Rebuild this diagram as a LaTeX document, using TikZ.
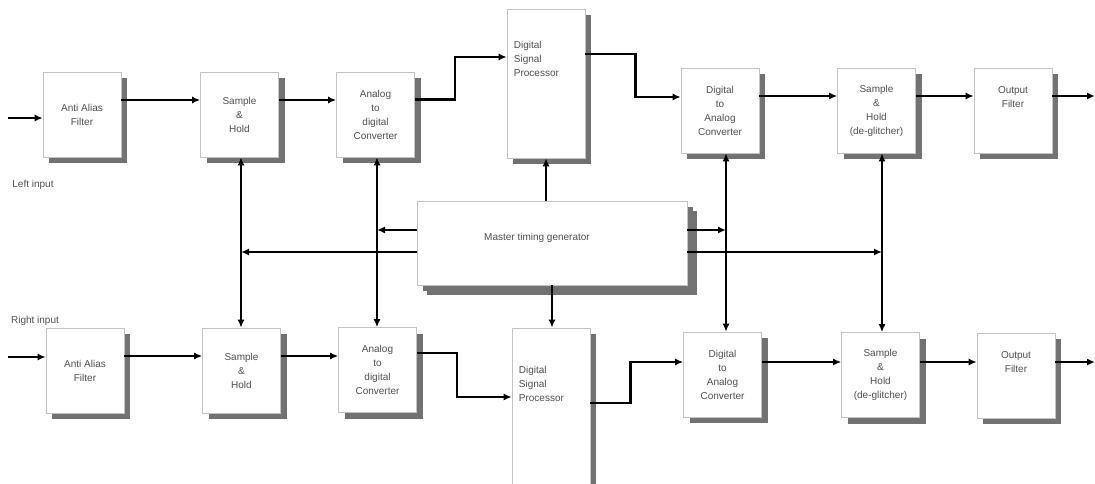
\documentclass[tikz,border=0pt]{standalone}
\usepackage{fontspec}
\setmainfont{Liberation Sans}
\usetikzlibrary{arrows.meta,shadows}

\definecolor{borde}{HTML}{C4C4C4}
\definecolor{sombra}{HTML}{727272}
\definecolor{texto}{HTML}{505050}

\tikzset{
  bloque/.style={draw=borde, line width=0.6pt, fill=white, minimum width=78pt,
    minimum height=85pt, inner sep=0pt, align=center, text=texto,
    font=\fontsize{10}{14}\selectfont,
    drop shadow={shadow xshift=6pt, shadow yshift=-6pt, fill=sombra, opacity=1}},
  senal/.style={line width=2.4pt, -{Latex[length=8pt,width=7pt]}},
  doble/.style={line width=2.4pt, {Latex[length=8pt,width=7pt]}-{Latex[length=8pt,width=7pt]}},
  rotulo/.style={text=texto, font=\fontsize{10}{14}\selectfont, inner sep=0pt, align=left},
}

\begin{document}
\begin{tikzpicture}[x=1pt, y=-1pt]
    \useasboundingbox (0,0) rectangle (1095,484);

    % Canal izquierdo
    \node[bloque] (aafL) at (82,114.5) {Anti Alias\\Filter};
    \node[bloque] (shL)  at (239.5,114.5) {Sample\\\&\\Hold};
    \node[bloque] (adcL) at (375.5,114.5) {Analog\\to\\digital\\Converter};
    \node[bloque, minimum height=149pt,
      label={[rotulo, anchor=north west, xshift=7pt, yshift=-32pt]north west:Digital\\Signal\\Processor}]
      (dspL) at (546,83.5) {};
    \node[bloque] (dacL) at (720,110.5) {Digital\\to\\Analog\\Converter};
    \node[bloque] (shdL) at (876.5,110.5) {Sample\\\&\\Hold\\(de-glitcher)};
    \node[bloque] (ofL)  at (1013,110.5) {Output\\Filter\\[12pt]};
    \node[rotulo] (izq) at (33,185) {Left input};

    % Canal derecho
    \node[bloque] (aafR) at (85,370.5) {Anti Alias\\Filter};
    \node[bloque] (shR)  at (241.5,370.5) {Sample\\\&\\Hold};
    \node[bloque] (adcR) at (377.5,370) {Analog\\to\\digital\\Converter};
    \node[bloque, minimum height=156pt,
      label={[rotulo, anchor=north west, xshift=7pt, yshift=-38pt]north west:Digital\\Signal\\Processor}]
      (dspR) at (551,406) {};
    \node[bloque] (dacR) at (722.5,374.5) {Digital\\to\\Analog\\Converter};
    \node[bloque] (shdR) at (880.5,375) {Sample\\\&\\Hold\\(de-glitcher)};
    \node[bloque] (ofR)  at (1016,375.5) {Output\\Filter\\[12pt]};
    \node[rotulo] (der) at (35,321) {Right input};

    % Generador de reloj
    \node[bloque, minimum width=270pt, minimum height=84pt,
      drop shadow={shadow xshift=10pt, shadow yshift=-10pt, fill=sombra, opacity=1},
      label={[rotulo, xshift=-15pt, yshift=5pt]center:Master timing generator}]
      (mtg) at (552,243) {};

    % Entradas y salidas
    \coordinate (inL) at (8,118);
    \coordinate (inR) at (8,357);
    \coordinate (outL) at (1095,96);
    \coordinate (outR) at (1095,362);

    % Buses verticales
    \coordinate (busSH) at (241,0);
    \coordinate (busAD) at (377,0);
    \coordinate (busDA) at (726,0);
    \coordinate (busSD) at (882,0);

    % Tomas del generador
    \coordinate (tapA) at ([yshift=13pt]mtg.west);
    \coordinate (tapB) at ([yshift=-9pt]mtg.west);
    \coordinate (tapC) at ([yshift=13pt]mtg.east);
    \coordinate (tapD) at ([yshift=-9pt]mtg.east);

    % Cadena izquierda
    \draw[senal] (inL) -- (inL -| aafL.west);
    \draw[senal] ([yshift=14.5pt]aafL.east) -- ([yshift=14.5pt]shL.west);
    \draw[senal] ([yshift=14.5pt]shL.east) -- ([yshift=14.5pt]adcL.west);
    \draw[senal] ([yshift=15pt]adcL.east) -- ++(40,0) |- ([yshift=26.5pt]dspL.west);
    \draw[senal] ([yshift=29.5pt]dspL.east) -- ++(50,0) |- ([yshift=13.5pt]dacL.west);
    \draw[senal] ([yshift=14.5pt]dacL.east) -- ([yshift=14.5pt]shdL.west);
    \draw[senal] ([yshift=14.5pt]shdL.east) -- ([yshift=14.5pt]ofL.west);
    \draw[senal] ([yshift=14.5pt]ofL.east) -- (outL);

    % Cadena derecha
    \draw[senal] (inR) -- (inR -| aafR.west);
    \draw[senal] ([yshift=14.5pt]aafR.east) -- ([yshift=14.5pt]shR.west);
    \draw[senal] ([yshift=14.5pt]shR.east) -- ([yshift=14pt]adcR.west);
    \draw[senal] ([yshift=17pt]adcR.east) -- ++(40,0) |- ([yshift=9pt]dspR.west);
    \draw[senal] ([yshift=3pt]dspR.east) -- ++(40,0) |- ([yshift=12.5pt]dacR.west);
    \draw[senal] ([yshift=12.5pt]dacR.east) -- ([yshift=13pt]shdR.west);
    \draw[senal] ([yshift=13pt]shdR.east) -- ([yshift=13.5pt]ofR.west);
    \draw[senal] ([yshift=13.5pt]ofR.east) -- (outR);

    % Relojes
    \draw[doble] (busSH |- shL.south) -- (busSH |- shR.north);
    \draw[doble] (busAD |- adcL.south) -- (busAD |- adcR.north);
    \draw[doble] (busDA |- dacL.south) -- (busDA |- dacR.north);
    \draw[doble] (busSD |- shdL.south) -- (busSD |- shdR.north);
    \draw[senal] (dspL.south |- mtg.north) -- (dspL.south);
    \draw[senal] (mtg.south) -- (mtg.south |- dspR.north);
    \draw[senal] (tapA) -- (tapA -| busAD);
    \draw[senal] (tapB) -- (tapB -| busSH);
    \draw[senal] (tapC) -- (tapC -| busDA);
    \draw[senal] (tapD) -- (tapD -| busSD);
\end{tikzpicture}
\end{document}
